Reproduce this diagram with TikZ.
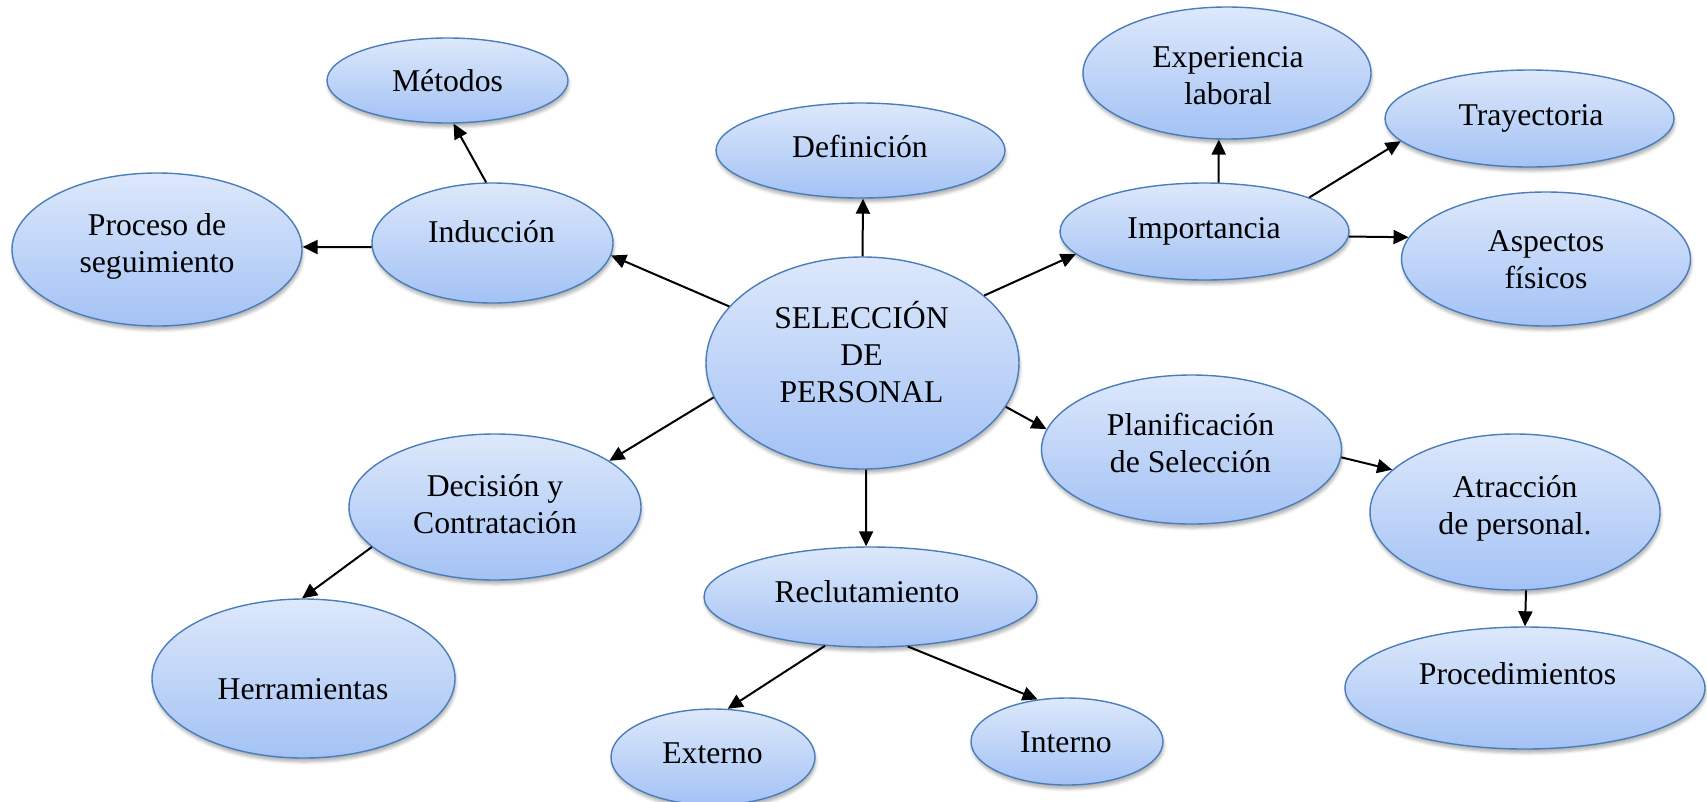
\documentclass[tikz,border=0pt]{standalone}
\usepackage{fontspec}
\setmainfont{Liberation Serif}
\usetikzlibrary{arrows.meta,shapes.geometric,shadows.blur}
\definecolor{bubbletop}{HTML}{DDE8FB}
\definecolor{bubblebottom}{HTML}{A3C2F5}
\definecolor{bubbleline}{HTML}{4A7EBB}
% stacked, centred lines whose baseline is that of the first line
\newcommand{\mlines}[1]{\begin{tabular}[t]{@{}c@{}}#1\end{tabular}}

\begin{document}
\begin{tikzpicture}[x=1pt,y=-1pt,
  bubble/.style={ellipse, draw=bubbleline, line width=1.4pt,
    top color=bubbletop, bottom color=bubblebottom, inner sep=0pt,
    blur shadow={shadow xshift=1pt, shadow yshift=-4pt,
      shadow blur radius=3pt, shadow opacity=30}},
  words/.style={anchor=base, inner sep=0pt, font=\fontsize{31.7}{37.2}\selectfont},
  link/.style={line width=2pt, -{Triangle[length=15pt,width=14pt]}}]

\useasboundingbox (0,0) rectangle (1707,801);

% bubbles
\node[bubble, minimum width=241pt, minimum height=85pt]  (metodos)        at (447.5,80.5) {};
\node[bubble, minimum width=289pt, minimum height=95pt]  (definicion)     at (860.5,150.5) {};
\node[bubble, minimum width=288pt, minimum height=132pt] (experiencia)    at (1227,73) {};
\node[bubble, minimum width=289pt, minimum height=97pt]  (trayectoria)    at (1529.5,118.5) {};
\node[bubble, minimum width=289pt, minimum height=97pt]  (importancia)    at (1204.5,231.5) {};
\node[bubble, minimum width=289pt, minimum height=134pt] (aspectos)       at (1546,259) {};
\node[bubble, minimum width=290pt, minimum height=153pt] (proceso)        at (157,249.5) {};
\node[bubble, minimum width=241pt, minimum height=120pt] (induccion)      at (492.5,243) {};
\node[bubble, minimum width=313pt, minimum height=212pt] (seleccion)      at (862.5,363) {};
\node[bubble, minimum width=300pt, minimum height=149pt] (planificacion)  at (1191.5,449.5) {};
\node[bubble, minimum width=290pt, minimum height=156pt] (atraccion)      at (1515,512) {};
\node[bubble, minimum width=292pt, minimum height=146pt] (decision)       at (495,507) {};
\node[bubble, minimum width=333pt, minimum height=100pt] (reclutamiento)  at (870.5,597) {};
\node[bubble, minimum width=303pt, minimum height=159pt] (herramientas)   at (303.5,678.5) {};
\node[bubble, minimum width=360pt, minimum height=122pt] (procedimientos) at (1525,688) {};
\node[bubble, minimum width=204pt, minimum height=96pt]  (externo)        at (713,757) {};
\node[bubble, minimum width=192pt, minimum height=87pt]  (interno)        at (1067,741.5) {};

% texts (placed by the baseline of their first line)
\node[words] (metodos-t)        at (447.5,91)  {Métodos};
\node[words] (definicion-t)     at (860,157)   {Definición};
\node[words] (experiencia-t)    at (1228,67)   {\mlines{Experiencia\\laboral}};
\node[words] (trayectoria-t)    at (1531,125)  {Trayectoria};
\node[words] (importancia-t)    at (1204,238)  {Importancia};
\node[words] (aspectos-t)       at (1546,251)  {\mlines{Aspectos\\físicos}};
\node[words] (proceso-t)        at (157,235)   {\mlines{Proceso de\\seguimiento}};
\node[words] (induccion-t)      at (491.5,242) {Inducción};
\node[words] (seleccion-t)      at (861.5,328) {\mlines{SELECCIÓN\\DE\\PERSONAL}};
\node[words] (planificacion-t)  at (1190.5,435) {\mlines{Planificación\\de Selección}};
\node[words] (atraccion-t)      at (1515,497)  {\mlines{Atracción\\de personal.}};
\node[words] (decision-t)       at (495,496)   {\mlines{Decisión y\\Contratación}};
\node[words] (reclutamiento-t)  at (867,602)   {Reclutamiento};
\node[words] (herramientas-t)   at (303,699)   {Herramientas};
\node[words] (procedimientos-t) at (1517.5,684) {Procedimientos};
\node[words] (externo-t)        at (712.5,763) {Externo};
\node[words] (interno-t)        at (1066,752)  {Interno};

% connectors
\draw[link] (induccion.96)     -- (metodos.-82);
\draw[link] (induccion.182)    -- (proceso.1);
\draw[link] (seleccion.157)    -- (induccion.-6);
\draw[link] (seleccion.90)     -- (definicion.-87);
\draw[link] (seleccion.29)     -- (importancia.190);
\draw[link] (importancia.74)   -- (experiencia.-97);
\draw[link] (importancia.18)   -- (trayectoria.190);
\draw[link] (importancia.-2)   -- (aspectos.171);
\draw[link] (seleccion.-17)    -- (planificacion.172);
\draw[link] (planificacion.-3) -- (atraccion.161);
\draw[link] (atraccion.-82)    -- (procedimientos.90);
\draw[link] (seleccion.-88)    -- (reclutamiento.95);
\draw[link] (seleccion.193)    -- (decision.22);
\draw[link] (decision.198)     -- (herramientas.91);
\draw[link] (reclutamiento.-133) -- (externo.73);
\draw[link] (reclutamiento.-53)  -- (interno.125);
\end{tikzpicture}
\end{document}
